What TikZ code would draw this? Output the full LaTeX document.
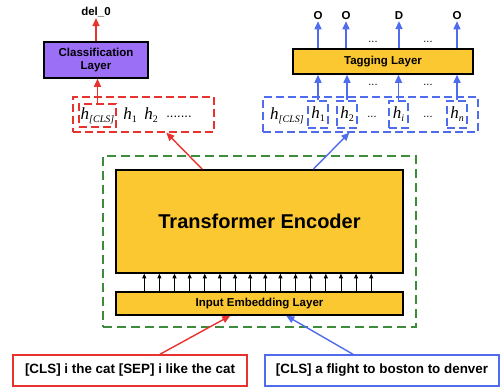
\documentclass[tikz,border=0pt]{standalone}
\usepackage{fontspec}
\setmainfont{Liberation Sans}
\newfontfamily\tms{Liberation Serif}
\usetikzlibrary{arrows.meta}
\definecolor{myred}{HTML}{E8322E}
\definecolor{myblue}{HTML}{4E6CEB}
\definecolor{mygreen}{HTML}{3C8C3C}
\definecolor{mygold}{HTML}{FCC831}
\definecolor{mypurple}{HTML}{9C6FF7}
\newcommand{\hsym}[2]{{\tms\fontsize{17}{17}\selectfont\itshape h}\raisebox{-0.3em}{\tms\fontsize{10}{10}\selectfont #1#2}}
\begin{document}
\begin{tikzpicture}[x=1pt,y=-1pt,
  layer/.style={draw=black, line width=1.5pt, inner sep=0pt, font=\bfseries\fontsize{11.5}{13.5}\selectfont, align=center},
  rdash/.style={draw=myred, line width=1.3pt, dash pattern=on 8pt off 4pt, inner sep=0pt},
  bdash/.style={draw=myblue, line width=1.3pt, dash pattern=on 8pt off 4pt, inner sep=0pt},
  rarr/.style={draw=myred, line width=1.4pt, -{Triangle[length=8pt,width=7pt]}},
  barr/.style={draw=myblue, line width=1.4pt, -{Triangle[length=8pt,width=7pt]}},
  karr/.style={draw=black, line width=0.7pt, -{Triangle[length=4.5pt,width=4pt]}},
  lbl/.style={font=\bfseries\fontsize{11.5}{13}\selectfont, inner sep=1pt},
  dots/.style={font=\fontsize{11}{11}\selectfont, inner sep=0pt},
  plain/.style={inner sep=0pt}
]
\useasboundingbox (0,0) rectangle (501,388);

% left branch
\node[lbl] (del) at (96,12) {del\_0};
\node[layer, fill=mypurple, minimum width=104pt, minimum height=36pt] (cls) at (96,60) {Classification\\Layer};
\node[rdash, minimum width=141pt, minimum height=35pt] (rout) at (143.5,114.5) {};
\node[rdash, line width=1.1pt, minimum width=37pt, minimum height=23pt] (rin) at (97.5,115.5) {};
\node[plain] (rh) at (97.5,115.5) {\hsym{\itshape[CLS}{\itshape]}};
\node[plain] (rh1) at (130,115.5) {\hsym{1}{}};
\node[plain] (rh2) at (151,115.5) {\hsym{2}{}};
\node[plain, font=\fontsize{13}{13}\selectfont] (rdots) at (179,117) {.......};
\draw[rarr] (rin.north) -- (rin.north |- cls.south);
\draw[rarr] (cls.north) -- (cls.north |- del.south);

% right branch
\node[layer, fill=mygold, minimum width=180pt, minimum height=25pt] (tag) at (383,61.5) {Tagging Layer};
\node[bdash, minimum width=215pt, minimum height=35pt] (bout) at (370.5,114.5) {};
\node[bdash, line width=1.1pt, minimum width=20pt, minimum height=27pt] (b1) at (318,114.5) {};
\node[bdash, line width=1.1pt, minimum width=20pt, minimum height=27pt] (b2) at (347,114.5) {};
\node[bdash, line width=1.1pt, minimum width=19pt, minimum height=27pt] (bi) at (398.5,114.5) {};
\node[bdash, line width=1.1pt, minimum width=20pt, minimum height=27pt] (bn) at (457,114.5) {};
\node[plain] (bh) at (287,115.5) {\hsym{\itshape[CLS}{\itshape]}};
\node[plain] at (b1) {\hsym{1}{}};
\node[plain] at (b2) {\hsym{2}{}};
\node[plain] at (bi) {\hsym{\itshape i}{}};
\node[plain] at (bn) {\hsym{\itshape n}{}};
\node[dots] (bd1) at (372,117) {...};
\node[dots] (bd2) at (428,117) {...};
\node[dots] (td1) at (373,85) {...};
\node[dots] (td2) at (428,85) {...};
\node[dots] (ud1) at (373,42) {...};
\node[dots] (ud2) at (428,42) {...};
\node[lbl] (o1) at (318,16) {O};
\node[lbl] (o2) at (346,16) {O};
\node[lbl] (o3) at (399,16) {D};
\node[lbl] (o4) at (457,16) {O};
\foreach \b/\o in {b1/o1,b2/o2,bi/o3,bn/o4}{
  \draw[barr] (\b.north) -- (\b.north |- tag.south);
  \draw[barr] (tag.north -| \o) -- (\o.south);
}

% encoder
\node[draw=mygreen, line width=1.5pt, dash pattern=on 9pt off 5pt, minimum width=313pt, minimum height=171pt, inner sep=0pt] (grn) at (259.5,241.5) {};
\node[layer, fill=mygold, minimum width=287pt, minimum height=103pt, font=\bfseries\fontsize{20}{22}\selectfont] (enc) at (259.5,221.5) {Transformer Encoder};
\node[layer, fill=mygold, minimum width=287pt, minimum height=23pt] (emb) at (259.5,303.5) {Input Embedding Layer};
\foreach \i in {0,...,15}{
  \draw[karr] ([xshift={29+\i*15.13}]emb.north west) -- ([xshift={29+\i*15.13}]enc.south west);
}
\draw[rarr] ([xshift=87pt]enc.north west) -- ([xshift=94pt]rout.south west);
\draw[barr] ([xshift=198pt]enc.north west) -- ([xshift=87pt]bout.south west);

% inputs
\node[layer, draw=myred, minimum width=234pt, minimum height=31pt, font=\bfseries\fontsize{13.4}{15}\selectfont] (sr) at (130,370.5) {[CLS] i the cat [SEP] i like the cat};
\node[layer, draw=myblue, minimum width=234pt, minimum height=31pt, font=\bfseries\fontsize{13.4}{15}\selectfont] (sb) at (382,370.5) {[CLS] a flight to boston to denver};
\draw[rarr] ([xshift=30pt]sr.north) -- ([xshift=115pt]emb.south west);
\draw[barr] ([xshift=-29pt]sb.north) -- ([xshift=171pt]emb.south west);
\end{tikzpicture}
\end{document}
